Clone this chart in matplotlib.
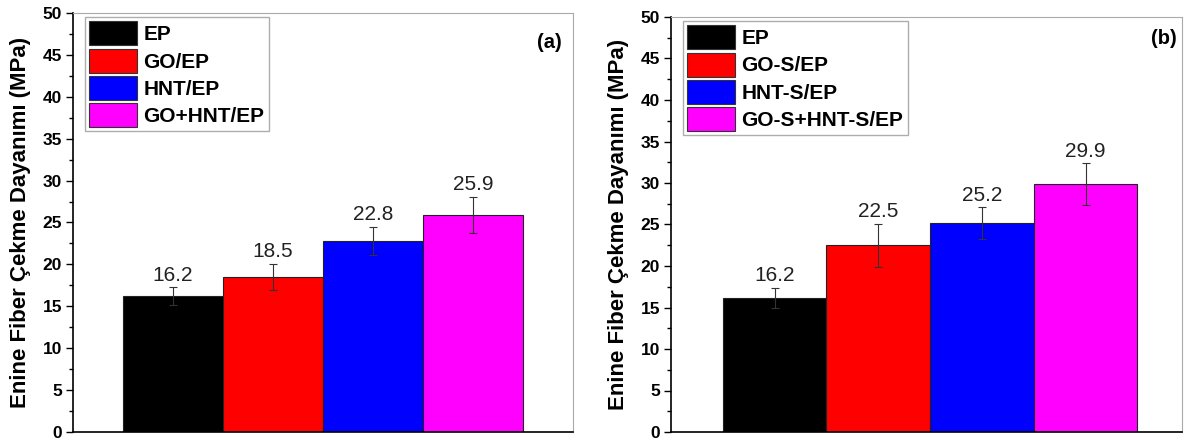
import matplotlib
matplotlib.use("Agg")
import matplotlib.pyplot as plt
from matplotlib.ticker import MultipleLocator
from matplotlib.patches import Patch

plt.rcParams['font.family'] = ['Liberation Sans', 'DejaVu Sans']

colors = ['#000000', '#FF0000', '#0000FF', '#FF00FF']

labels_a = ['EP', 'GO/EP', 'HNT/EP', 'GO+HNT/EP']
values_a = [16.2, 18.5, 22.8, 25.9]
errors_a = [1.1, 1.6, 1.7, 2.2]

labels_b = ['EP', 'GO-S/EP', 'HNT-S/EP', 'GO-S+HNT-S/EP']
values_b = [16.2, 22.5, 25.2, 29.9]
errors_b = [1.2, 2.6, 1.9, 2.5]

ylabel = 'Enine Fiber Çekme Dayanımı (MPa)'

fig = plt.figure(figsize=(11.9, 4.41), dpi=100)
W, H = 1190, 441
ax_a = fig.add_axes([73 / W, 1 - 432 / H, 500 / W, 419 / H])
ax_b = fig.add_axes([671 / W, 1 - 432 / H, 511 / W, 415 / H])


def draw(ax, labels, values, errors, tag, xmax, tag_xy):
    xs = [1, 2, 3, 4]
    ax.bar(xs, values, width=1.0, color=colors, edgecolor='#222222', linewidth=0.8,
           yerr=errors, error_kw=dict(ecolor='#333333', elinewidth=0.8, capsize=3, capthick=0.8),
           zorder=2)
    for x, v, e in zip(xs, values, errors):
        ax.text(x, v + e + 0.3, f'{v:.1f}', ha='center', va='bottom', fontsize=15, color='#222222')
    ax.set_xlim(0, xmax)
    ax.set_ylim(0, 50)
    ax.yaxis.set_major_locator(MultipleLocator(5))
    ax.yaxis.set_minor_locator(MultipleLocator(2.5))
    ax.set_xticks([])
    ax.tick_params(axis='y', which='major', direction='out', length=5, width=1, labelsize=12.5, pad=3)
    ax.tick_params(axis='y', which='minor', direction='out', length=3, width=1)
    for t in ax.get_yticklabels():
        t.set_fontweight('bold')
    ax.set_ylabel(ylabel, fontsize=16, fontweight='bold', labelpad=8)
    ax.spines['left'].set_color('black')
    ax.spines['bottom'].set_color('black')
    ax.spines['left'].set_linewidth(1.2)
    ax.spines['bottom'].set_linewidth(1.2)
    ax.spines['top'].set_color('#aaaaaa')
    ax.spines['right'].set_color('#aaaaaa')
    handles = [Patch(facecolor=c, edgecolor='#333333', linewidth=0.8) for c in colors]
    leg = ax.legend(handles, labels, loc='upper left', bbox_to_anchor=(0.024, 0.99),
                    prop=dict(weight='bold', size=15), frameon=True, fancybox=False,
                    edgecolor='#999999', handlelength=2.3, handleheight=1.4,
                    labelspacing=0.15, handletextpad=0.3, borderpad=0.2, borderaxespad=0.0)
    leg.get_frame().set_linewidth(1.0)
    ax.text(tag_xy[0], tag_xy[1], tag, transform=ax.transAxes, ha='right', va='top',
            fontsize=14.5, fontweight='bold')


draw(ax_a, labels_a, values_a, errors_a, '(a)', 5.0, (0.978, 0.952))
draw(ax_b, labels_b, values_b, errors_b, '(b)', 4.93, (0.99, 0.972))

fig.savefig('out.png', dpi=100)
